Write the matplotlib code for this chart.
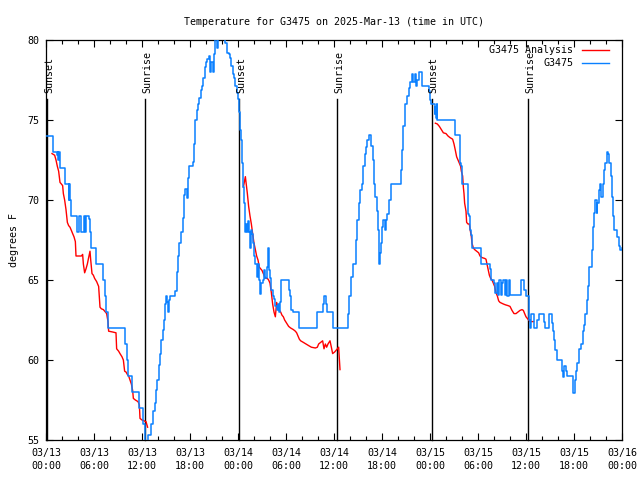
import matplotlib
matplotlib.use("Agg")
import matplotlib.pyplot as plt
import numpy as np

plt.rcParams['font.family'] = ['DejaVu Sans Mono']
FS = 7.2

# ---------------- data (hours since 2025-03-13 00:00 UTC) ----------------
obs_hours = [0.0, 0.83, 1.33, 1.45, 1.55, 1.62, 1.7, 2.33, 2.83, 2.92, 3.0, 3.17,
             3.83, 3.92, 4.08, 4.17, 4.42, 4.75, 4.92, 5.0, 5.42, 5.5, 5.67, 6.25,
             7.17, 7.33, 7.5, 7.75, 9.83, 10.08, 10.25, 10.75, 11.67, 12.17, 12.33,
             12.4, 12.8, 13.08, 13.42, 13.58, 13.75, 13.92, 14.08, 14.25, 14.42,
             14.58, 14.75, 14.88, 14.96, 15.08, 15.25, 15.33, 15.5, 16.17, 16.33,
             16.5, 16.67, 16.83, 17.08, 17.25, 17.42, 17.58, 17.75, 17.92, 18.33,
             18.5, 18.67, 18.83, 19.0, 19.17, 19.33, 19.5, 19.67, 19.83, 20.0,
             20.17, 20.33, 20.5, 20.67, 20.83, 21.0, 21.17, 21.33, 21.5, 21.67,
             22.42, 22.58, 22.83, 23.0, 23.17, 23.33, 23.5, 23.67, 23.83, 24.0,
             24.17, 24.25, 24.38, 24.5, 24.67, 24.75, 24.83, 24.92, 25.0, 25.08,
             25.25, 25.33, 25.5, 25.58, 25.75, 25.92, 26.0, 26.17, 26.33, 26.5,
             26.67, 26.75, 26.92, 27.08, 27.25, 27.42, 27.58, 27.75, 27.83, 27.92,
             28.0, 28.17, 28.33, 28.5, 28.67, 28.83, 29.0, 29.08, 29.25, 29.42,
             30.33, 30.5, 30.67, 30.92, 31.58, 33.83, 34.58, 34.75, 35.0, 35.08,
             35.92, 37.58, 37.75, 37.92, 38.08, 38.42, 38.75, 38.92, 39.08, 39.25,
             39.5, 39.67, 39.83, 40.0, 40.17, 40.42, 40.58, 40.83, 41.0, 41.17,
             41.33, 41.5, 41.58, 41.67, 41.75, 41.83, 42.0, 42.17, 42.33, 42.5,
             42.67, 42.92, 43.17, 44.17, 44.33, 44.5, 44.67, 44.83, 45.08, 45.33,
             45.5, 45.75, 45.92, 46.08, 46.25, 46.42, 46.58, 47.0, 47.83, 48.0,
             48.17, 48.58, 48.67, 48.75, 48.83, 48.92, 51.08, 51.75, 51.92, 52.0,
             52.75, 52.92, 53.0, 53.17, 53.25, 54.33, 55.5, 55.58, 56.0, 56.17,
             56.33, 56.5, 56.67, 56.83, 57.0, 57.17, 57.33, 57.5, 57.67, 57.83,
             58.0, 59.42, 59.75, 60.0, 60.33, 60.5, 60.67, 61.0, 61.42, 61.58,
             62.25, 62.42, 62.83, 63.25, 63.42, 63.5, 63.67, 63.83, 64.5, 64.67,
             64.75, 65.0, 65.08, 65.83, 65.92, 66.08, 66.25, 66.42, 66.58, 66.92,
             67.08, 67.25, 67.42, 67.58, 67.75, 67.9, 68.25, 68.33, 68.5, 68.67,
             68.83, 68.92, 69.08, 69.25, 69.42, 69.58, 69.75, 69.92, 70.08, 70.25,
             70.42, 70.58, 70.75, 70.83, 71.0, 71.42, 71.58, 71.75, 72.0]
obs_temps = [74, 73, 72.8, 73, 72.5, 73, 72, 71, 70, 71, 70, 69,
             68.5, 68, 68.8, 69, 68, 69, 68, 69, 68.8, 68, 67, 66,
             65, 64, 63, 62, 61, 60, 59, 58, 57, 56, 55.5,
             54.5, 55.3, 56.0, 56.8, 57.3, 58.1, 58.75, 59.7, 60.4, 61.25,
             61.9, 62.5, 63.5, 64.0, 63.6, 63.0, 63.75, 64.0, 64.3, 65.5,
             66.5, 67.3, 68.0, 68.85, 70.3, 70.7, 70.1, 71.35, 72.1, 72.4,
             73.5, 75.0, 75.6, 76.0, 76.4, 76.9, 77.1, 77.6, 78.3, 78.6,
             78.8, 79.0, 78.0, 78.6, 78.0, 79.1, 80.2, 79.5, 80.3, 80.5,
             79.8, 79.2, 79.1, 78.9, 78.4, 77.9, 77.6, 77.1, 76.7, 76.3,
             75.5, 74.4, 73.75, 72.3, 70.8, 69.8, 68.5, 68.0, 68.5, 68.0,
             68.7, 68.0, 67.0, 68.1, 67.9, 67.3, 66.5, 66.0, 65.2, 66.0,
             65.0, 64.1, 64.8, 65.0, 65.6, 65.1, 65.8, 67.0, 66.3, 65.6,
             65.1, 64.4, 64.0, 63.8, 63.4, 63.1, 63.5, 63.0, 63.6, 65.0,
             64.4, 64.0, 63.1, 63.0, 62.0, 63.0, 63.5, 64.0, 63.5, 63.0,
             62.0, 62.0, 62.9, 64.0, 65.2, 66.0, 67.5, 68.75, 69.8, 70.6,
             71.0, 72.1, 72.9, 73.3, 73.75, 74.06, 73.4, 72.5, 71.0, 70.2,
             69.3, 68.1, 66.9, 66.0, 66.7, 67.3, 68.3, 68.75, 68.1, 68.75,
             69.1, 70.0, 71.0, 71.0, 71.9, 73.1, 74.6, 76.0, 76.5, 77.0,
             77.4, 77.9, 77.4, 77.9, 77.1, 77.5, 78.0, 77.1, 76.8, 76.25,
             76.0, 75.4, 75.8, 75.1, 76.0, 75.0, 74.06, 72.3, 72.1, 71.0,
             69.1, 69.0, 68.1, 67.8, 67.0, 66.0, 65.7, 65.0, 64.8, 64.2,
             64.8, 64.06, 65.0, 64.06, 64.8, 65.0, 64.06, 65.0, 64.0, 65.0,
             64.06, 65.0, 64.4, 64.0, 62.5, 62.0, 62.9, 62.0, 62.5, 62.9,
             62.4, 62.0, 62.9, 62.3, 61.8, 61.25, 60.6, 60.0, 59.3, 58.96,
             59.6, 59.3, 59.0, 58.2, 57.96, 58.75, 59.3, 59.8, 60.7, 61.0,
             61.8, 62.2, 62.9, 63.75, 64.6, 65.8, 66.9, 68.3, 69.2, 70.0,
             69.2, 69.8, 70.6, 71.0, 70.2, 71.0, 71.9, 72.3, 73.0, 72.9,
             72.3, 71.5, 70.2, 69.0, 68.1, 67.7, 67.1, 66.9, 67.0]

ana1_hours = [0.75, 1.08, 1.25, 1.42, 1.58, 1.75, 1.92, 2.08, 2.17, 2.33, 2.5, 2.67,
              2.83, 3.0, 3.17, 3.33, 3.5, 3.67, 3.75, 4.17, 4.42, 4.58, 4.67, 4.83,
              5.0, 5.17, 5.33, 5.5, 5.58, 5.75, 5.92, 6.08, 6.33, 6.58, 6.75, 6.92,
              7.17, 7.42, 7.58, 7.75, 7.83, 8.33, 8.75, 8.83, 9.08, 9.25, 9.5, 9.67,
              9.83, 10.0, 10.17, 10.33, 10.5, 10.67, 10.83, 10.92, 11.17, 11.5,
              11.67, 11.75, 12.0, 12.25, 12.5, 12.7]
ana1_temps = [72.9, 72.8, 72.5, 72.1, 71.8, 71.1, 71.0, 70.9, 70.4, 70.0, 69.4, 68.6,
              68.4, 68.3, 68.1, 67.9, 67.7, 67.4, 66.5, 66.5, 66.5, 66.6, 66.0, 65.45,
              65.7, 66.0, 66.4, 66.8, 66.3, 65.4, 65.3, 65.1, 64.9, 64.6, 63.3, 63.2,
              63.15, 63.0, 62.9, 62.4, 61.8, 61.75, 61.7, 60.7, 60.55, 60.4, 60.2, 60.0,
              59.3, 59.25, 59.1, 59.0, 58.75, 58.5, 58.1, 57.6, 57.5, 57.4,
              57.2, 56.35, 56.25, 56.2, 56.15, 55.8]

ana2_hours = [24.67, 24.92, 25.17, 25.33, 25.5, 25.67, 25.83, 26.0, 26.17, 26.33, 26.5,
              26.67, 26.83, 27.0, 27.17, 27.33, 27.5, 27.67, 27.83, 28.0, 28.17, 28.33,
              28.5, 28.67, 28.83, 29.0, 29.17, 29.33, 29.5, 29.67, 29.83, 30.08, 30.33,
              30.58, 30.92, 31.17, 31.33, 31.5, 31.67, 31.83, 32.17, 32.5, 32.83, 33.17,
              33.67, 33.92, 34.08, 34.33, 34.58, 34.75, 34.92, 35.08, 35.25, 35.5,
              35.67, 35.83, 36.08, 36.25, 36.42, 36.58, 36.75]
ana2_temps = [70.8, 71.46, 70.4, 69.6, 69.0, 68.5, 67.9, 67.3, 66.9, 66.5, 66.25,
              65.8, 65.7, 65.6, 65.4, 65.2, 65.1, 65.1, 65.0, 64.8, 64.2, 63.5,
              63.0, 62.7, 63.6, 63.3, 63.1, 63.0, 62.8, 62.7, 62.5, 62.3, 62.1,
              62.0, 61.9, 61.8, 61.7, 61.5, 61.3, 61.2, 61.1, 61.0, 60.9, 60.8,
              60.75, 60.8, 61.0, 61.1, 61.2, 60.7, 61.0, 60.8, 61.0, 61.2,
              60.8, 60.4, 60.5, 60.6, 60.7, 60.8, 59.4]

ana3_hours = [48.67, 48.92, 49.17, 49.42, 49.67, 50.0, 50.25, 50.5, 50.83, 51.0, 51.17,
              51.33, 51.5, 51.67, 51.83, 51.92, 52.08, 52.17, 52.25, 52.33, 52.5, 52.58,
              52.75, 52.92, 53.0, 53.17, 53.25, 53.42, 53.58, 53.83, 54.08, 54.25, 54.5,
              54.83, 55.0, 55.08, 55.25, 55.42, 55.58, 55.75, 55.92, 56.08, 56.25, 56.42,
              56.58, 56.75, 57.17, 57.42, 57.75, 58.0, 58.25, 58.5, 58.75, 59.0, 59.25,
              59.5, 59.67, 59.83, 60.0, 60.33, 60.5, 60.75, 60.95]
ana3_temps = [74.8, 74.75, 74.6, 74.4, 74.2, 74.15, 74.0, 73.9, 73.8, 73.5, 73.1,
              72.7, 72.5, 72.3, 72.1, 71.8, 71.5, 70.8, 70.4, 69.8, 69.3, 68.6,
              68.5, 68.5, 68.2, 67.7, 67.3, 67.0, 66.9, 66.8, 66.7, 66.5, 66.4,
              66.35, 66.3, 66.1, 65.7, 65.3, 65.1, 65.0, 64.8, 64.6, 64.2, 64.0,
              63.7, 63.6, 63.5, 63.45, 63.4, 63.35, 63.1, 62.9, 62.9, 63.0, 63.1,
              63.15, 63.1, 62.9, 62.7, 62.5, 62.4, 62.4, 62.4]

sun_events = ["Sunset", "Sunrise", "Sunset", "Sunrise", "Sunset", "Sunrise"]
sun_hours = [0.12, 12.4, 24.17, 36.4, 48.2, 60.3]

xtick_labels = ["03/13\n00:00", "03/13\n06:00", "03/13\n12:00", "03/13\n18:00",
                "03/14\n00:00", "03/14\n06:00", "03/14\n12:00", "03/14\n18:00",
                "03/15\n00:00", "03/15\n06:00", "03/15\n12:00", "03/15\n18:00",
                "03/16\n00:00"]
yticks = [55, 60, 65, 70, 75, 80]

RED = '#ff0000'
BLUE = '#0a80ff'

fig = plt.figure(figsize=(6.4, 4.8), dpi=100)
ax = fig.add_axes([46/640, 40/480, 576/640, 400/480])

ax.set_xlim(0, 72)
ax.set_ylim(55, 80)

# sunrise / sunset lines
for name, h in zip(sun_events, sun_hours):
    ax.plot([h, h], [0, 0.8525], color='black', lw=1.0,
            transform=ax.get_xaxis_transform(), clip_on=False, zorder=1)
    ax.text(h + 0.25, 0.868, name, rotation=90, ha='center', va='bottom',
            fontsize=FS, transform=ax.get_xaxis_transform(), zorder=4)

ax.plot(ana1_hours, ana1_temps, color=RED, lw=1.0, zorder=2)
ax.plot(ana2_hours, ana2_temps, color=RED, lw=1.0, zorder=2)
ax.plot(ana3_hours, ana3_temps, color=RED, lw=1.0, zorder=2)
ax.plot(obs_hours, obs_temps, color=BLUE, lw=1.1, drawstyle='steps-post', zorder=3)

# ticks
ax.set_xticks(np.arange(0, 73, 6))
ax.set_xticklabels(xtick_labels, fontsize=FS, linespacing=1.35)
ax.set_xticks(np.arange(0, 73, 2), minor=True)
ax.set_yticks(yticks)
ax.set_yticklabels([str(v) for v in yticks], fontsize=FS)
ax.tick_params(axis='both', which='major', direction='in', length=5, width=0.8,
               top=True, right=True)
ax.tick_params(axis='both', which='minor', direction='in', length=3, width=0.8,
               top=True, right=True)
ax.tick_params(axis='x', which='major', pad=6)
ax.tick_params(axis='y', which='major', pad=5)
for s in ax.spines.values():
    s.set_linewidth(0.9)

ax.set_ylabel("degrees F", fontsize=FS, labelpad=6)
ax.set_title("Temperature for G3475 on 2025-Mar-13 (time in UTC)", fontsize=FS, pad=11)

# legend (gnuplot style: text right-aligned, sample on the right)
leg_labels = ["G3475 Analysis", "G3475"]
leg_colors = [RED, BLUE]
for i, (lab, col) in enumerate(zip(leg_labels, leg_colors)):
    yy = 1 - (10 + 13 * i) / 400
    ax.text((573 - 46) / 576, yy, lab, ha='right', va='center', fontsize=FS,
            transform=ax.transAxes, zorder=5)
    ax.plot([(582 - 46) / 576, (609 - 46) / 576], [yy, yy], color=col, lw=1.0,
            transform=ax.transAxes, zorder=5)

fig.savefig("out.png", dpi=100)
